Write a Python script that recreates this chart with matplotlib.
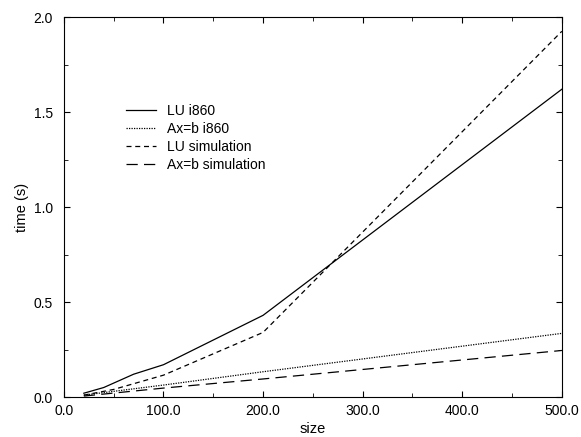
import matplotlib
matplotlib.use("Agg")
import matplotlib.pyplot as plt
from matplotlib.ticker import MultipleLocator, FormatStrFormatter

plt.rcParams['font.family'] = ['Liberation Sans', 'DejaVu Sans']

# matrix size vs time
lu_i860_x = [20, 40, 70, 100, 200, 500]
lu_i860_y = [0.02, 0.05, 0.12, 0.17, 0.43, 1.62]

axb_i860_x = [20, 100, 200, 500]
axb_i860_y = [0.01, 0.063, 0.133, 0.335]

lu_sim_x = [20, 50, 100, 200, 500]
lu_sim_y = [0.01, 0.04, 0.115, 0.34, 1.925]

axb_sim_x = [20, 100, 200, 500]
axb_sim_y = [0.005, 0.047, 0.095, 0.245]

fig = plt.figure(figsize=(5.81, 4.37), dpi=100)
ax = fig.add_axes([0.110, 0.0915, 0.857, 0.8695])

lw = 0.9
ax.plot(lu_i860_x, lu_i860_y, color='black', lw=lw, ls='-', label='LU i860')
ax.plot(axb_i860_x, axb_i860_y, color='black', lw=lw, ls=(0, (1, 1)), label='Ax=b i860')
ax.plot(lu_sim_x, lu_sim_y, color='black', lw=lw, ls=(0, (4, 3)), label='LU simulation')
ax.plot(axb_sim_x, axb_sim_y, color='black', lw=lw, ls=(0, (9, 5)), label='Ax=b simulation')

ax.set_xlim(0, 500)
ax.set_ylim(0, 2.0)
ax.xaxis.set_major_locator(MultipleLocator(100))
ax.xaxis.set_minor_locator(MultipleLocator(50))
ax.yaxis.set_major_locator(MultipleLocator(0.5))
ax.yaxis.set_minor_locator(MultipleLocator(0.25))
ax.xaxis.set_major_formatter(FormatStrFormatter('%.1f'))
ax.yaxis.set_major_formatter(FormatStrFormatter('%.1f'))
ax.tick_params(which='both', direction='in', top=True, right=True, labelsize=10)
ax.tick_params(which='major', length=4)
ax.tick_params(which='minor', length=3)
ax.tick_params(axis='x', which='major', pad=5)
ax.tick_params(axis='y', which='major', pad=8)

ax.set_xlabel('size', fontsize=10.5, labelpad=3)
ax.set_ylabel('time (s)', fontsize=10.5, labelpad=3)

ax.legend(loc='upper left', bbox_to_anchor=(0.11, 0.79), frameon=False, fontsize=10,
          handlelength=2.2, handletextpad=0.8, labelspacing=0.3, borderpad=0)

fig.savefig('out.png', dpi=100)
